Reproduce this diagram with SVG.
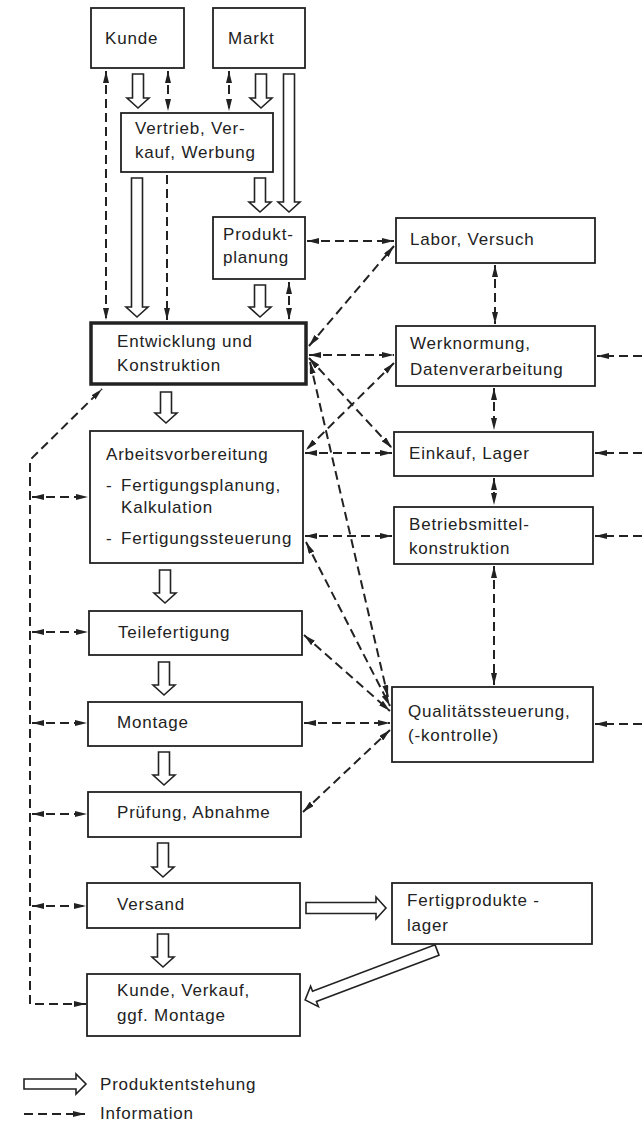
<svg xmlns="http://www.w3.org/2000/svg" width="642" height="1122" viewBox="0 0 642 1122">
<style>
.box{fill:#fff;stroke:#222;stroke-width:1.8}
.bold{fill:#fff;stroke:#222;stroke-width:3.5}
.t{font-family:"Liberation Sans",Arial,sans-serif;font-size:17px;fill:#222;letter-spacing:0.8px}
.d{fill:none;stroke:#222;stroke-width:2;stroke-dasharray:9 5}
.h{fill:#fff;stroke:#222;stroke-width:1.6;stroke-linejoin:miter}
</style>
<defs>
<marker id="ah" viewBox="0 0 12 6" refX="12" refY="3" markerWidth="12" markerHeight="6" markerUnits="userSpaceOnUse" orient="auto-start-reverse"><path d="M0,0 L12,3 L0,6 z" fill="#222"/></marker>
</defs>

<g id="connectors">
<!-- hollow product arrows -->
<path class="h" d="M132.5,74 V98 H127 L138,108 L149,98 H143.5 V74 Z"/>
<path class="h" d="M255.5,74 V98 H250 L261,108 L272,98 H266.5 V74 Z"/>
<path class="h" d="M283.5,74 V202 H278 L289,212 L300,202 H294.5 V74 Z"/>
<path class="h" d="M254.5,178 V202 H249 L260,212 L271,202 H265.5 V178 Z"/>
<path class="h" d="M131.5,178 V307 H126 L137,317 L148,307 H142.5 V178 Z"/>
<path class="h" d="M254.5,285 V307 H249 L260,317 L271,307 H265.5 V285 Z"/>
<path class="h" d="M160.5,392 V413 H155 L166,423 L177,413 H171.5 V392 Z"/>
<path class="h" d="M159.5,570 V593 H154 L165,603 L176,593 H170.5 V570 Z"/>
<path class="h" d="M158.5,662 V685 H153 L164,695 L175,685 H169.5 V662 Z"/>
<path class="h" d="M158.5,752 V775 H153 L164,785 L175,775 H169.5 V752 Z"/>
<path class="h" d="M157.5,843 V867 H152 L163,877 L174,867 H168.5 V843 Z"/>
<path class="h" d="M157.5,934 V957 H152 L163,967 L174,957 H168.5 V934 Z"/>
<path class="h" d="M306,902.5 H376 V897 L386,908 L376,919 V913.5 H306 Z"/>
<path class="h" transform="translate(437,950) rotate(159.25)" d="M0,-5.5 H131 V-11 L141,0 L131,11 V5.5 H0 Z"/>

<!-- information (dashed) -->
<path class="d" d="M106,71 V320" marker-start="url(#ah)" marker-end="url(#ah)"/>
<path class="d" d="M168,71 V111" marker-start="url(#ah)" marker-end="url(#ah)"/>
<path class="d" d="M229,71 V111" marker-start="url(#ah)" marker-end="url(#ah)"/>
<path class="d" d="M167,175 V320" marker-end="url(#ah)"/>
<path class="d" d="M289,282 V320" marker-start="url(#ah)" marker-end="url(#ah)"/>
<path class="d" d="M307,241 H394" marker-start="url(#ah)" marker-end="url(#ah)"/>
<path class="d" d="M309,346 L394,246" marker-start="url(#ah)" marker-end="url(#ah)"/>
<path class="d" d="M309,355 H394" marker-start="url(#ah)" marker-end="url(#ah)"/>
<path class="d" d="M394,363 L306,450" marker-start="url(#ah)" marker-end="url(#ah)"/>
<path class="d" d="M309,358 L392,448" marker-start="url(#ah)" marker-end="url(#ah)"/>
<path class="d" d="M305,453 H392" marker-start="url(#ah)" marker-end="url(#ah)"/>
<path class="d" d="M310,362 L388,697" marker-start="url(#ah)" marker-end="url(#ah)"/>
<path class="d" d="M305,536 H392" marker-start="url(#ah)" marker-end="url(#ah)"/>
<path class="d" d="M306,542 L390,706" marker-start="url(#ah)" marker-end="url(#ah)"/>
<path class="d" d="M304,635 L390,711" marker-start="url(#ah)" marker-end="url(#ah)"/>
<path class="d" d="M304,723 H390" marker-start="url(#ah)" marker-end="url(#ah)"/>
<path class="d" d="M303,812 L390,730" marker-start="url(#ah)" marker-end="url(#ah)"/>
<path class="d" d="M495,265 V324" marker-start="url(#ah)" marker-end="url(#ah)"/>
<path class="d" d="M494,388 V430" marker-start="url(#ah)" marker-end="url(#ah)"/>
<path class="d" d="M494,478 V505" marker-start="url(#ah)" marker-end="url(#ah)"/>
<path class="d" d="M494,566 V685" marker-start="url(#ah)" marker-end="url(#ah)"/>
<path class="d" d="M642,356 H597" marker-end="url(#ah)"/>
<path class="d" d="M642,453 H595" marker-end="url(#ah)"/>
<path class="d" d="M642,536 H595" marker-end="url(#ah)"/>
<path class="d" d="M642,724 H595" marker-end="url(#ah)"/>
<path class="d" d="M86,1004 H30 V460 L102,389" marker-start="url(#ah)" marker-end="url(#ah)"/>
<path class="d" d="M32,497 H88" marker-start="url(#ah)" marker-end="url(#ah)"/>
<path class="d" d="M32,632 H88" marker-start="url(#ah)" marker-end="url(#ah)"/>
<path class="d" d="M32,723 H87" marker-start="url(#ah)" marker-end="url(#ah)"/>
<path class="d" d="M32,814 H87" marker-start="url(#ah)" marker-end="url(#ah)"/>
<path class="d" d="M32,906 H86" marker-start="url(#ah)" marker-end="url(#ah)"/>
</g>

<g id="kunde"><rect class="box" x="91" y="8" width="93" height="60"/><text class="t" x="105" y="44">Kunde</text></g>
<g id="markt"><rect class="box" x="213" y="8" width="92" height="60"/><text class="t" x="228" y="44">Markt</text></g>
<g id="vertrieb"><rect class="box" x="121" y="113" width="152" height="59"/><text class="t" x="135" y="134">Vertrieb, Ver-</text><text class="t" x="135" y="158">kauf, Werbung</text></g>
<g id="produktplanung"><rect class="box" x="213" y="217" width="92" height="62"/><text class="t" x="223" y="240">Produkt-</text><text class="t" x="223" y="263">planung</text></g>
<g id="entwicklung"><rect class="bold" x="91" y="323" width="215" height="61"/><text class="t" x="117" y="347">Entwicklung und</text><text class="t" x="117" y="371">Konstruktion</text></g>
<g id="labor"><rect class="box" x="396" y="218" width="199" height="45"/><text class="t" x="410" y="245">Labor, Versuch</text></g>
<g id="werknormung"><rect class="box" x="396" y="326" width="199" height="60"/><text class="t" x="410" y="349">Werknormung,</text><text class="t" x="410" y="375">Datenverarbeitung</text></g>
<g id="einkauf"><rect class="box" x="394" y="432" width="199" height="44"/><text class="t" x="409" y="459">Einkauf, Lager</text></g>
<g id="betriebsmittel"><rect class="box" x="394" y="507" width="199" height="57"/><text class="t" x="409" y="530">Betriebsmittel-</text><text class="t" x="409" y="554">konstruktion</text></g>
<g id="qualitaet"><rect class="box" x="392" y="687" width="201" height="75"/><text class="t" x="408" y="717">Qualitätssteuerung,</text><text class="t" x="408" y="741">(-kontrolle)</text></g>
<g id="arbeitsvorbereitung"><rect class="box" x="90" y="431" width="213" height="132"/><text class="t" x="106" y="460">Arbeitsvorbereitung</text><text class="t" x="106" y="491">-</text><text class="t" x="121" y="491">Fertigungsplanung,</text><text class="t" x="121" y="513">Kalkulation</text><text class="t" x="106" y="544">-</text><text class="t" x="121" y="544">Fertigungssteuerung</text></g>
<g id="teilefertigung"><rect class="box" x="89" y="611" width="213" height="44"/><text class="t" x="118" y="638">Teilefertigung</text></g>
<g id="montage"><rect class="box" x="88" y="702" width="214" height="44"/><text class="t" x="117" y="728">Montage</text></g>
<g id="pruefung"><rect class="box" x="88" y="792" width="213" height="45"/><text class="t" x="117" y="818">Prüfung, Abnahme</text></g>
<g id="versand"><rect class="box" x="87" y="883" width="213" height="45"/><text class="t" x="117" y="910">Versand</text></g>
<g id="kunde-verkauf"><rect class="box" x="87" y="974" width="213" height="62"/><text class="t" x="117" y="996">Kunde, Verkauf,</text><text class="t" x="117" y="1021">ggf. Montage</text></g>
<g id="fertigprodukte"><rect class="box" x="392" y="883" width="200" height="61"/><text class="t" x="407" y="906">Fertigprodukte -</text><text class="t" x="407" y="931">lager</text></g>

<g id="legend">
<path class="h" d="M24,1079 H76 V1074 L86,1084 L76,1094 V1089 H24 Z"/>
<text class="t" x="100" y="1090">Produktentstehung</text>
<path class="d" d="M24,1114 H85" marker-end="url(#ah)"/>
<text class="t" x="100" y="1119">Information</text>
</g>
</svg>
